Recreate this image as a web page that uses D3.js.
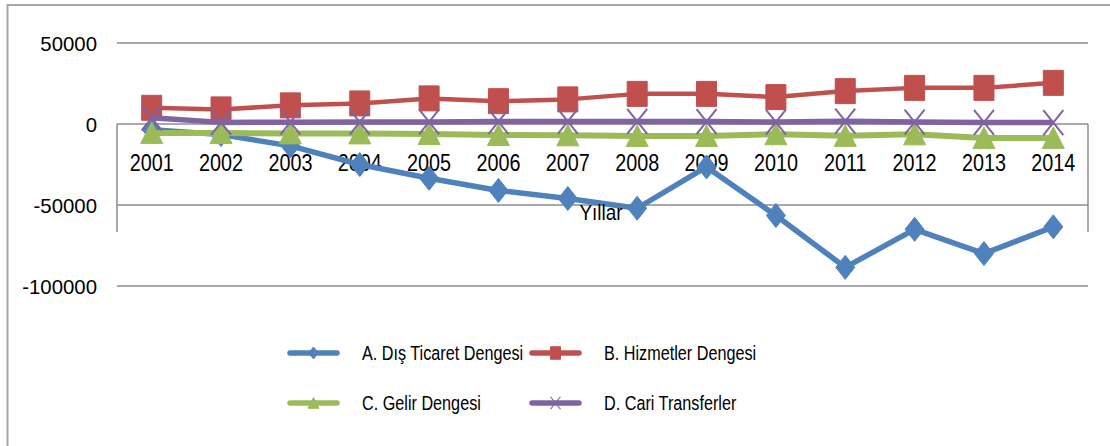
<!DOCTYPE html>
<html><head><meta charset="utf-8">
<script src="https://cdn.jsdelivr.net/npm/d3@7"></script>
<style>
html,body{margin:0;padding:0;background:#fff;}
svg{display:block;}
text{font-family:"Liberation Sans Narrow","Liberation Sans",Arial,sans-serif;fill:#000;}
</style></head>
<body><svg id="c" width="1110" height="446"></svg>
<script>
const years = ["2001","2002","2003","2004","2005","2006","2007","2008","2009","2010","2011","2012","2013","2014"];
const disTicaret = [-3500,-6500,-13500,-25000,-33500,-41000,-46000,-52000,-26500,-56500,-88500,-65000,-80000,-63500];
const hizmetler = [10000,9000,11500,12700,15800,14100,15200,18600,18600,16600,20300,22300,22300,25400];
const gelir = [-5500,-5600,-5800,-5800,-6200,-6800,-7000,-7400,-7400,-6300,-7300,-6400,-8600,-8600];
const cariTransfer = [3800,1000,1100,1200,1300,1500,1600,1600,1500,1200,1700,1200,1000,900];
const yTicks = [50000,0,-50000,-100000];
const seriesNames = ["A. Dış Ticaret Dengesi","B. Hizmetler Dengesi","C. Gelir Dengesi","D. Cari Transferler"];
const axisTitle = "Yıllar";

const series = [
  {name:seriesNames[0], values:disTicaret, color:"#4f81bd", marker:"diamond", w:5.5},
  {name:seriesNames[1], values:hizmetler, color:"#c0504d", marker:"square", w:4.5},
  {name:seriesNames[2], values:gelir, color:"#9bbb59", marker:"triangle", w:6},
  {name:seriesNames[3], values:cariTransfer, color:"#8064a2", marker:"x", w:5.5}
];

const svg = d3.select("#c");
// condense text to mimic a narrow face
function condense(sel, f) {
  sel.each(function(){
    const L = this.getComputedTextLength();
    d3.select(this).attr("textLength", L*f).attr("lengthAdjust","spacingAndGlyphs");
  });
}

// outer frame
svg.append("rect").attr("x",7.5).attr("y",5).attr("width",1120).attr("height",460)
  .attr("fill","none").attr("stroke","#a6a6a6").attr("stroke-width",2);

const x = d3.scaleBand().domain(years).range([117,1088]);
const y = d3.scaleLinear().domain([-100000,50000]).range([286,43]);
const cx = d => x(d) + x.bandwidth()/2;

// gridlines
svg.append("g").selectAll("line").data(yTicks).join("line")
  .attr("x1",117).attr("x2",1088).attr("y1",d=>y(d)).attr("y2",d=>y(d))
  .attr("stroke","#8c8c8c").attr("stroke-width",1.5);

// vertical box lines around category axis region
[117,1088].forEach(xx=>{
  svg.append("line").attr("x1",xx).attr("x2",xx).attr("y1",y(0)).attr("y2",232)
    .attr("stroke","#8c8c8c").attr("stroke-width",1.5);
});

// y labels
svg.append("g").selectAll("text").data(yTicks).join("text")
  .attr("x",97).attr("y",d=>y(d)).attr("dy","0.36em").attr("text-anchor","end")
  .attr("font-size",21).text(d=>d)
  .call(condense, 0.97);

// x labels
svg.append("g").selectAll("text").data(years).join("text")
  .attr("x",d=>cx(d)).attr("y",171).attr("text-anchor","middle")
  .attr("font-size",23).text(d=>d)
  .call(condense, 0.86);

function markerPath(type, s) {
  const hw = 10*s, hh = 12.5*s;
  if (type==="diamond") return `M0,${-12*s}L${9.5*s},0L0,${12*s}L${-9.5*s},0Z`;
  if (type==="square") { return `M${-hw},${-hh}H${hw}V${hh}H${-hw}Z`; }
  if (type==="triangle") return `M0,${-11*s}L${11*s},${10.5*s}L${-11*s},${10.5*s}Z`;
  return `M${-10*s},${-12.5*s}L${10*s},${12.5*s}M${10*s},${-12.5*s}L${-10*s},${12.5*s}`;
}

const line = d3.line().x((d,i)=>cx(years[i])).y(d=>y(d));
series.forEach(s=>{
  const g = svg.append("g");
  g.append("path").datum(s.values).attr("d",line).attr("fill","none")
    .attr("stroke",s.color).attr("stroke-width",s.w).attr("stroke-linejoin","round");
  g.selectAll("path.m").data(s.values).join("path").attr("class","m")
    .attr("transform",(d,i)=>`translate(${cx(years[i])},${y(d)})`)
    .attr("d",markerPath(s.marker,1))
    .attr("fill", s.marker==="x" ? "none" : s.color)
    .attr("stroke", s.color)
    .attr("stroke-width", s.marker==="x" ? 2 : 1)
    .attr("stroke-linejoin", s.marker==="square" ? "round" : "miter");
});

// axis title
svg.append("text").attr("x",601).attr("y",220).attr("text-anchor","middle")
  .attr("font-size",22).text(axisTitle).call(condense, 0.86);

// legend
const legPos = [[290,353],[532,353],[290,403],[532,403]];
series.forEach((s,i)=>{
  const [lx,ly] = legPos[i];
  const g = svg.append("g");
  g.append("line").attr("x1",lx).attr("x2",lx+47).attr("y1",ly).attr("y2",ly)
    .attr("stroke",s.color).attr("stroke-width",5.5).attr("stroke-linecap","round");
  g.append("path").attr("transform",`translate(${lx+23.5},${ly})`)
    .attr("d",markerPath(s.marker,0.5))
    .attr("fill", s.marker==="x" ? "none" : s.color)
    .attr("stroke",s.color).attr("stroke-width", s.marker==="x" ? 1.2 : 1);
  g.append("text").attr("x",lx+72).attr("y",ly+7).attr("font-size",20).text(s.name)
    .call(condense, 0.81);
});
</script></body></html>
